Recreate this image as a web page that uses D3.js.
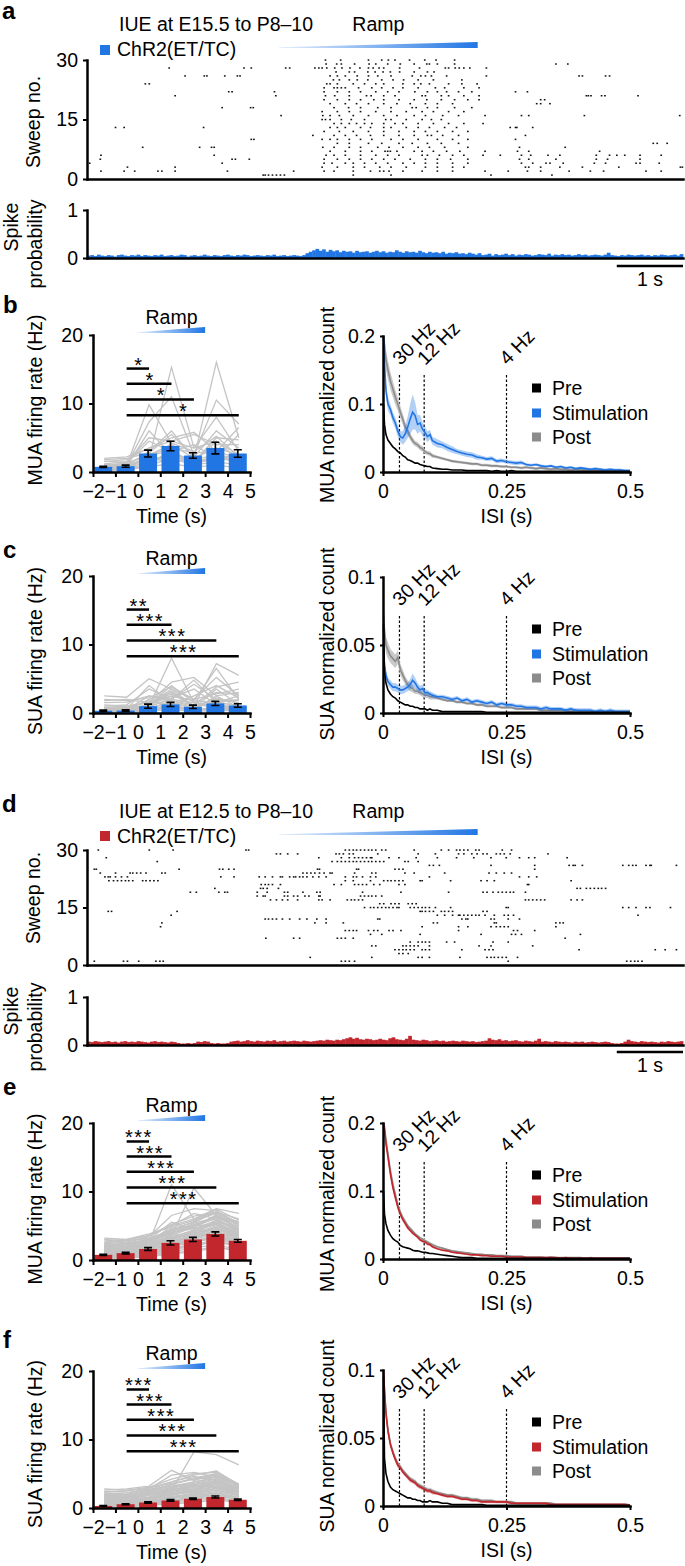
<!DOCTYPE html>
<html>
<head>
<meta charset="utf-8">
<script src="https://cdn.jsdelivr.net/npm/d3@7"></script>
<style>
body { margin: 0; background: #fff; }
svg text { font-family: 'Liberation Sans', Arial, Helvetica, sans-serif; font-size: 19.5px; fill: #000; }
svg text.letter { font-size: 24px; font-weight: bold; }
svg text.star { font-size: 20px; letter-spacing: 1.5px; }
</style>
</head>
<body>
<div id="fig"></div>
<script>
var blue = '#2176e4', red = '#c1272d';

// ---- raster panels (a, d) ----
var rasterDomain = [-2.9, 6.1];
var rampStart = 0, rampEnd = 3;
var histStart = -2.9, histBin = 0.05;

// spike times (s), one list per sweep, sweep 1 first
var spikesA = [
[-0.24,-0.21,-0.16,-0.10,-0.04,0.02,0.08,1.12,1.69,3.20,4.12],
[-2.69,-2.34,-2.18,-1.83,-1.77,-1.57,-0.78,0.22,0.68,0.83,1.12,1.38,1.52,1.58,1.66,1.87,2.16,2.39,2.62,3.11,3.46,3.75,3.95,4.38,4.70,4.90,5.54,5.77],
[-2.29,-1.57,0.65,0.88,1.12,1.29,1.52,1.69,1.92,2.21,2.39,2.62,2.79,3.72,3.77,3.95,4.24,4.58,5.13,6.06,6.09],
[-2.86,-0.86,0.68,0.80,1.00,1.12,1.29,1.46,1.64,1.87,2.04,2.21,2.39,2.62,2.85,3.66,3.83,4.03,4.09,4.29,4.76,4.93,5.39,5.45,5.74],
[-2.70,-0.71,-0.66,-0.45,0.68,0.88,1.06,1.23,1.40,1.58,1.75,1.98,2.21,2.39,2.59,2.85,3.63,3.77,4.18,4.79,4.96,5.45],
[-2.69,-0.98,0.71,0.83,1.00,1.23,1.46,1.64,1.81,2.16,2.24,2.42,2.62,2.79,3.08,3.34,3.66,3.80,4.06,4.24,4.79,4.99,5.10,5.22,5.45,5.77],
[0.77,1.00,1.23,1.40,1.60,1.64,1.68,1.78,2.04,2.16,2.33,2.53,2.73,3.11,3.60,3.77,4.84],
[-2.06,-1.20,-1.02,-0.98,0.66,0.83,1.06,1.23,1.49,1.66,1.87,2.10,2.27,2.50,2.85,3.63,4.32],
[0.88,1.06,1.35,1.55,1.81,2.01,2.24,2.45,2.71,5.65,5.71,5.86],
[-0.42,-0.38,0.65,0.77,0.88,1.06,1.23,1.40,1.69,1.87,2.10,2.39,2.62,2.85,3.57],
[0.51,0.83,1.00,1.17,1.38,1.58,1.81,2.04,2.24,2.30,2.47,2.71,3.72],
[0.68,0.91,1.12,1.35,1.58,1.81,2.04,2.21,2.39,2.62,2.85],
[-2.47,-2.34,-1.14,0.77,0.88,1.00,1.23,1.38,1.58,1.69,1.92,2.10,2.27,2.50,2.68,3.49,3.57,3.59,3.83],
[0.83,0.94,1.06,1.17,1.29,1.40,1.58,1.75,1.87,2.10,2.33,2.56,2.79,3.08],
[0.65,0.70,0.77,0.94,1.09,1.29,1.61,1.69,1.92,2.16,2.30,2.45],
[0.03,0.66,0.77,0.91,1.12,1.35,1.58,1.78,2.04,2.21,2.47,2.71,3.11,3.66,3.77,4.61,6.05],
[0.65,0.88,1.06,1.23,1.46,1.69,1.92,2.16,2.33,2.56,2.79],
[-0.86,-0.43,-0.39,0.83,1.05,1.23,1.49,1.69,2.01,2.07,2.24,2.39,2.65,2.91],
[0.77,1.00,1.17,1.35,1.58,1.78,1.98,2.21,2.39,2.62,3.89,3.95,4.09],
[0.68,0.88,1.06,1.23,1.43,1.58,1.81,2.04,2.23,2.45,2.65,2.85,3.02,3.95,4.01],
[-1.57,-0.05,0.70,0.84,1.06,1.32,1.39,1.58,1.75,2.16,2.21,2.45,2.56,2.79,3.02,4.64,4.67,4.71,4.87,4.92,5.42],
[-0.76,-0.71,-0.07,0.68,0.88,1.06,1.23,1.46,1.64,1.81,2.05,2.24,2.39,2.53,2.71,2.91,3.57,3.75],
[0.68,0.83,0.88,0.94,1.00,1.20,1.40,1.55,1.72,1.87,2.10,2.36,2.50,2.79,3.02],
[-2.02,-1.96,0.72,0.77,0.88,1.12,1.29,1.46,1.58,1.87,2.04,2.14,2.27,2.56,2.76,2.99],
[0.82,0.91,1.06,1.18,1.34,1.55,1.72,1.88,2.10,2.33,2.76],
[-1.42,-1.13,-1.09,-0.82,-0.63,-0.59,0.77,0.88,1.00,1.18,1.35,1.49,1.69,2.01,2.14,2.21,2.30,2.53,3.13,4.53,4.58,4.93,4.99],
[0.86,1.06,1.14,1.34,1.45,1.57,1.68,1.82,2.04,2.24,2.34],
[-1.66,-0.53,-0.42,0.10,0.16,0.54,0.60,0.65,0.72,0.84,0.95,1.07,1.22,1.35,1.42,1.51,1.58,1.82,2.12,2.51,2.56,2.66,2.72,2.79,2.88,3.13],
[0.71,0.87,0.94,1.14,1.36,1.46,1.64,1.83,2.04,2.23,2.27,2.39,2.65,4.18,4.36],
[0.70,0.93,1.35,1.55,1.65,1.75,1.97,2.20,2.37,2.65]
];

var spikesD = [
[-2.79,-2.35,-2.29,-2.12,-1.86,-1.80,-1.75,0.94,1.00,1.06,1.14,3.46,5.25,5.31,5.37,5.42,5.48],
[0.47,1.40,2.10,2.16,2.27,2.73,3.14,3.20,3.25,3.31,3.37,3.43,3.60],
[1.81,1.87,1.95],
[1.75,1.81,1.87,1.92,1.98,2.04,2.16,2.21,2.27,2.76,3.11,3.17,3.23,4.53,5.68,5.83,6.00],
[1.40,1.46,1.87,1.92,1.98,2.04,2.10,2.27,3.02,3.20,3.83],
[1.98,2.10,2.16,2.21,2.27,2.53,2.65,3.23,3.46],
[-0.20,0.22,0.31,0.88,0.94,1.00,1.12,4.32],
[1.38,1.55,2.13,3.05,3.51,3.57,3.66,4.55],
[1.00,1.06,1.12,1.17,1.35,1.43,1.49,1.66,1.72,1.84,2.71,3.54,3.60,3.86],
[-1.79,2.16,2.71,2.85,3.20,3.28,3.34,3.40,3.46,4.18],
[-1.77,0.54,0.71,0.97,2.33,2.39,3.25,3.28,4.18,4.24,4.29],
[-0.21,-0.16,-0.10,-0.04,0.05,0.16,0.31,0.42,0.57,0.71,1.49,1.52,2.76,2.82,2.85,3.20,3.25,3.46,3.63],
[-1.63,2.39,2.50,2.62,2.71,2.73,2.79,2.85,2.91,2.97,3.02,3.11,3.25,3.40,3.46,3.54,5.42],
[-2.58,-2.53,-1.54,2.13,2.16,2.21,2.27,2.33,2.45,2.50,2.56,2.62,3.08,3.14],
[1.29,1.38,1.43,1.49,1.55,1.61,1.66,1.72,1.78,1.81,1.98,2.04,2.10,2.16,2.21,2.27,2.36,2.59,3.43,3.46,5.19,5.28,5.39,5.54,5.60,5.91],
[1.52,1.58,1.69,1.75,1.81,1.95,2.01,2.07],
[-0.13,-0.04,0.05,0.13,0.28,0.60,0.65,0.77,1.03,1.09,1.14,1.20,1.26,3.72,3.77,3.83,3.89,3.95,4.01,4.41,4.50,4.58],
[-0.33,-0.24,-0.21,0.08,0.13,0.22,0.28,0.39,0.45,0.60,0.62,1.23,1.29,1.35,1.40,1.46,1.55],
[-1.34,-1.25,-0.91,-0.82,-0.78,-0.33,-0.18,0.08,0.13,0.36,0.57,0.62,1.26,1.84,2.56,3.08,3.14,3.23,3.31,3.37,3.43,3.49,3.54,3.72],
[-0.97,-0.28,-0.24,-0.18,-0.01,4.50,4.55,4.64,4.70,4.76,4.82,4.87,4.93],
[-0.27,-0.21,-0.16,-0.10,0.02,0.83,0.94,1.14,1.20,1.26,1.32,1.43,1.52,1.81,1.90,3.75,3.77],
[-2.57,-2.50,-2.44,-2.38,-2.32,-2.27,-2.21,-2.06,-2.01,-1.95,-1.89,-1.83,1.00,1.12,1.38,1.58,1.64,1.69,1.75,1.81,1.87,2.13,2.16,2.59,3.05,3.14,3.25,4.41],
[-2.63,-2.58,-2.55,-2.47,-2.38,-2.29,-0.88,-0.68,-0.30,-0.21,-0.10,0.02,0.05,0.16,0.22,0.25,0.31,0.36,0.42,0.51,0.60,0.71,1.00,1.12,1.17,1.26,1.38,1.46,2.27,3.63,3.77,3.89],
[-2.70,-2.47,-2.25,-2.21,-2.15,-2.09,-2.01,-1.77,-1.72,0.36,0.42,0.48,0.54,0.61,0.68,0.77,0.80,1.14,1.40,1.46,1.90,2.04,2.50,3.17,3.28,3.40,3.51],
[-2.79,-2.76,-1.51,-0.90,-0.85,-0.76,-0.68,0.58,0.61,1.17,1.20,1.75,1.81,1.87,3.86],
[2.27,2.33,2.42,3.20,3.86,4.38,4.44,4.47,4.58,5.19,5.28,5.34,5.39,5.54,5.60,5.62,6.00],
[-1.84,0.80,0.88,0.94,1.00,1.06,1.12,1.17,1.23,1.29,1.35,1.40,1.46,1.52,1.58,1.90,1.95,2.10],
[-2.61,0.60,0.94,1.06,1.14,1.20,1.26,1.32,1.38,1.40,1.66,1.81,2.07,2.39,2.68,2.94,3.20,3.43,3.63,3.77,3.86,4.35],
[-0.04,0.02,0.13,0.28,0.86,0.91,0.97,1.06,1.12,1.49,2.10,2.36,2.71,2.79,2.91,2.99,3.08,3.14,3.28,3.34,3.40,3.49,4.06],
[-2.73,-1.96,-1.60,-0.50,-0.46,1.00,1.06,1.12,1.17,1.23,1.29,1.35,1.40,1.46,1.55,1.61,2.04,2.45,2.56,2.68,2.73,2.79,2.85,2.97,3.02,3.37,3.51]
];

// spike probability, 50 ms bins from -2.9 s
var probA = [
0.05,0.06,0.04,0.07,0.05,0.04,0.06,0.05,0.03,0.06,0.07,0.05,0.04,0.06,0.05,0.07,0.04,0.06,0.05,0.04,
0.06,0.05,0.07,0.04,0.05,0.06,0.04,0.05,0.07,0.06,0.03,0.05,0.06,0.04,0.05,0.07,0.05,0.04,0.06,0.05,
0.04,0.06,0.07,0.05,0.04,0.06,0.05,0.07,0.06,0.04,0.05,0.06,0.05,0.04,0.06,0.05,0.07,0.04,0.05,0.06,
0.04,0.05,0.06,0.05,0.04,0.06,0.10,0.13,
0.16,0.19,0.15,0.18,0.13,0.17,0.14,0.16,0.12,0.15,0.13,0.14,0.11,0.15,0.12,0.13,0.14,0.11,0.13,0.15,
0.12,0.14,0.11,0.13,0.12,0.16,0.13,0.11,0.14,0.12,0.13,0.11,0.15,0.12,0.10,0.13,0.11,0.12,0.10,0.13,
0.09,0.11,0.10,0.12,0.09,0.10,0.08,0.11,0.09,0.07,0.10,0.06,
0.07,0.09,0.05,0.08,0.06,0.07,0.09,0.06,0.08,0.05,0.07,0.06,0.08,0.07,0.05,0.06,0.08,0.07,0.06,0.09,
0.05,0.07,0.06,0.08,0.06,0.07,0.05,0.06,0.08,0.06,0.07,0.05,0.06,0.07,0.06,0.05,0.07,0.11,0.06,0.05,
0.04,0.06,0.05,0.07,0.06,0.05,0.06,0.07,0.05,0.06,0.04,0.06,0.05,0.07,0.06,0.05,0.06,0.07,0.05,0.08
];
var probD = [
0.07,0.06,0.08,0.07,0.06,0.07,0.08,0.06,0.07,0.05,0.07,0.08,0.06,0.07,0.06,0.08,0.07,0.06,0.05,0.07,
0.08,0.06,0.07,0.06,0.05,0.07,0.06,0.04,0.03,0.03,0.04,0.03,0.04,0.07,0.06,0.08,0.07,0.04,0.03,0.04,
0.03,0.03,0.04,0.07,0.08,0.09,0.07,0.08,0.10,0.08,0.07,0.09,0.08,0.07,0.09,0.08,0.10,0.07,0.08,0.09,
0.07,0.08,0.09,0.08,0.07,0.09,0.08,0.07,
0.08,0.09,0.10,0.09,0.11,0.10,0.09,0.11,0.10,0.12,0.14,0.16,0.13,0.15,0.12,0.11,0.13,0.12,0.10,0.11,
0.13,0.11,0.10,0.14,0.16,0.12,0.11,0.10,0.13,0.19,0.11,0.10,0.09,0.11,0.10,0.08,0.09,0.10,0.08,0.09,
0.07,0.08,0.09,0.08,0.07,0.09,0.08,0.07,0.08,0.06,0.07,0.08,
0.09,0.14,0.11,0.10,0.12,0.09,0.10,0.08,0.09,0.10,0.08,0.07,0.09,0.08,0.07,0.09,0.13,0.07,0.08,0.07,
0.06,0.08,0.07,0.06,0.07,0.06,0.05,0.07,0.06,0.07,0.05,0.06,0.07,0.06,0.05,0.06,0.07,0.06,0.04,0.03,
0.03,0.04,0.07,0.11,0.08,0.07,0.06,0.08,0.07,0.06,0.07,0.06,0.05,0.07,0.06,0.08,0.07,0.06,0.07,0.08
];

// ---- firing rate panels ----
var rateBins = [-1.5, -0.5, 0.5, 1.5, 2.5, 3.5, 4.5];
var rateTicks = [-2, -1, 0, 1, 2, 3, 4, 5];
var sigStart = -0.5;
var sigLevels = [17.3, 15.1, 12.9, 10.6, 8.3];

var bLines = [
[0.5,0.6,2.0,15.3,3.5,4.5,2.5],[1.0,1.2,2.5,4.0,2.0,16.0,5.0],[0.8,1.0,7.3,11.0,2.5,10.5,7.0],
[1.5,1.8,3.5,5.0,5.8,3.0,6.5],[0.6,0.5,2.5,3.0,1.5,5.0,4.7],[1.2,1.5,5.0,4.5,3.5,8.0,3.0],
[0.3,0.4,1.0,2.0,1.0,1.5,1.0],[0.8,0.9,3.0,6.0,2.0,3.5,2.5],[2.0,2.2,3.5,4.5,5.5,4.0,4.0],
[0.4,0.6,1.5,2.5,1.2,2.0,1.5],[1.0,1.3,2.5,3.5,2.8,3.0,2.0],[0.7,0.8,6.0,2.5,1.8,2.5,2.0],
[0.5,0.7,2.0,1.5,2.0,1.5,3.0],[1.6,1.4,4.5,3.0,4.0,2.0,5.5],[0.2,0.3,0.8,1.2,0.7,1.0,0.6],
[0.9,1.1,1.8,2.2,1.5,4.5,1.8],[1.8,2.0,2.8,5.5,2.2,6.0,3.5],[0.4,0.5,1.2,3.2,0.9,2.8,1.2],
[1.1,0.9,9.8,4.2,3.0,5.2,2.2],[0.6,0.8,2.2,1.8,1.4,2.2,1.6]
];
var bMean = [0.75, 0.85, 2.7, 3.8, 2.4, 3.5, 2.7];
var bSem = [0.1, 0.15, 0.5, 0.7, 0.4, 0.85, 0.55];

var cLines = [
[0.2,0.3,1.0,8.0,1.5,1.0,0.8],[0.5,0.4,2.0,3.0,1.0,7.2,5.5],[2.5,2.3,5.0,3.5,1.0,2.0,1.5],
[0.8,1.0,1.5,4.5,5.2,2.5,3.0],[0.1,0.2,0.5,1.2,0.4,0.8,0.5],[1.5,1.6,2.5,2.0,4.8,1.5,2.5],
[0.3,0.2,0.8,1.5,0.6,3.5,1.2],[0.6,0.5,1.2,2.5,1.8,6.5,2.0],[0.2,0.1,0.4,0.8,0.3,1.0,0.6],
[1.0,1.2,3.5,2.0,1.5,3.0,2.8],[0.4,0.3,1.0,3.2,0.8,1.6,1.0],[0.0,0.1,0.3,0.5,0.2,0.4,0.3],
[0.7,0.6,1.8,1.0,2.5,4.0,2.2],[2.0,1.8,2.2,3.8,2.0,2.8,3.5],[0.3,0.4,0.6,1.8,1.2,0.9,0.7],
[0.5,0.6,4.0,1.5,0.8,2.2,1.4],[0.2,0.3,0.9,2.2,3.5,1.2,0.9],[1.2,1.0,1.5,2.8,1.0,3.8,4.5],
[0.1,0.2,0.5,0.9,0.4,0.6,0.4],[0.8,0.7,1.2,3.5,2.0,5.2,2.5],[0.4,0.5,2.5,1.8,0.9,1.5,1.1],
[0.6,0.8,1.0,2.0,4.2,2.0,1.8],[0.2,0.2,0.7,1.0,0.5,2.5,0.8],[1.8,2.0,1.5,2.5,1.8,1.5,2.0],
[0.3,0.3,1.2,4.0,1.5,1.0,0.8]
];
var cMean = [0.33, 0.35, 1.0, 1.25, 0.9, 1.4, 1.1];
var cSem = [0.1, 0.1, 0.3, 0.3, 0.25, 0.3, 0.25];

var eLines = [
[0.5,0.8,1.2,2.0,2.8,3.5,2.5],[1.0,1.2,1.8,3.0,4.0,5.5,3.8],[2.0,2.5,3.0,4.5,5.5,7.0,5.5],
[3.2,3.0,3.5,5.0,6.0,7.5,6.8],[0.3,0.5,0.8,1.2,1.8,2.2,1.5],[1.5,1.8,2.5,11.0,6.0,7.0,4.0],
[0.8,1.0,2.0,3.5,10.5,6.5,5.0],[1.2,1.5,2.2,3.2,3.8,4.8,3.5],[2.5,2.8,3.2,4.0,4.8,6.2,4.8],
[0.6,0.7,1.0,1.8,2.2,3.0,2.2],[1.8,2.0,2.8,3.8,5.0,6.5,4.5],[0.4,0.6,1.2,2.5,3.0,4.0,2.8],
[1.0,1.3,1.8,2.8,3.5,4.2,3.0],[2.2,2.4,3.0,5.5,4.5,5.8,4.2],[0.9,1.1,1.6,2.4,3.2,4.5,3.2],
[1.4,1.6,2.0,3.0,4.2,5.2,3.8],[0.2,0.4,0.6,1.0,1.4,2.0,1.2],[2.8,3.0,3.8,4.8,5.8,6.8,5.2],
[1.1,1.2,1.5,2.2,2.8,3.6,2.6],[0.7,0.9,1.4,2.6,3.4,4.8,3.3],[1.6,1.9,2.6,4.2,5.2,6.0,4.0],
[0.5,0.6,0.9,1.5,2.0,2.8,2.0],[2.4,2.6,3.4,6.5,7.5,7.2,5.0],[1.3,1.4,2.0,3.3,4.4,5.6,4.4],
[0.8,0.8,1.2,2.0,2.6,3.2,2.4],[1.9,2.2,2.9,4.0,4.6,5.4,3.6],[0.4,0.5,0.8,1.6,2.4,3.6,2.6],
[1.7,1.7,2.4,3.6,4.8,6.6,4.6],[2.6,2.9,3.6,5.2,6.4,7.0,6.0],[1.0,1.0,1.4,2.2,3.0,4.0,3.4],
[0.6,0.8,1.6,3.0,3.8,5.0,3.6],[1.5,1.7,2.2,2.8,3.6,4.6,3.2],[2.1,2.3,2.6,3.4,4.2,5.4,4.0],
[0.3,0.3,0.5,0.9,1.2,1.8,1.4],[1.2,1.4,2.4,4.6,5.0,5.2,3.4],[0.9,1.2,1.8,3.8,3.2,4.2,3.0],
[2.0,2.1,2.6,3.8,5.4,6.2,5.6],[1.4,1.5,1.9,2.6,3.4,3.8,2.8],[0.7,0.7,1.0,1.6,2.2,2.6,2.0],
[1.8,1.9,2.4,5.0,6.8,6.0,4.4],[3.0,2.8,3.2,4.2,5.0,6.4,5.4],[1.1,1.3,1.7,2.8,3.6,5.8,4.2],
[0.5,0.6,1.1,2.0,2.6,3.4,2.4],[2.3,2.4,3.0,4.4,5.6,7.4,5.8],[1.6,1.8,2.4,3.2,4.0,4.4,3.6]
];
var eMean = [0.75, 1.0, 1.6, 2.5, 3.0, 3.8, 2.8];
var eSem = [0.1, 0.12, 0.2, 0.3, 0.3, 0.3, 0.2];

var fLines = [
[0.2,0.3,0.5,1.0,1.5,2.0,1.2],[0.8,0.9,1.5,2.5,3.0,3.8,2.8],[2.6,2.8,3.2,5.5,4.0,5.0,3.3],
[0.5,0.6,1.0,1.5,1.8,2.2,1.6],[1.2,1.4,2.0,2.6,8.2,7.8,6.3],[0.1,0.2,0.4,0.8,1.0,1.4,0.9],
[1.5,1.7,2.5,3.5,4.2,4.8,3.2],[0.4,0.4,0.8,1.5,2.2,2.6,1.8],[2.0,2.2,2.8,4.8,5.2,4.5,3.4],
[0.9,1.0,1.5,2.2,2.8,3.4,2.5],[0.3,0.5,0.9,1.8,2.6,3.0,2.0],[1.8,1.9,2.4,3.2,3.6,4.2,3.0],
[0.6,0.7,1.2,2.0,2.4,2.9,2.2],[1.0,1.2,1.6,2.4,3.2,3.8,2.9],[0.2,0.2,0.4,0.6,0.8,1.2,0.8],
[2.3,2.5,3.0,4.2,5.0,5.2,3.5],[0.7,0.8,1.3,2.6,3.4,3.0,2.3],[1.4,1.5,2.2,3.0,3.8,4.5,3.3],
[0.4,0.5,0.7,1.2,1.6,2.0,1.4],[1.1,1.3,1.8,2.9,2.6,3.6,2.7],[0.8,0.9,1.2,1.9,2.5,3.2,2.4],
[1.9,2.0,2.6,3.8,4.6,4.0,3.1],[0.3,0.4,0.6,1.1,1.4,1.8,1.2],[1.6,1.7,2.0,2.7,3.1,3.6,2.8],
[0.5,0.6,1.0,1.7,2.1,2.6,1.9],[2.8,2.6,3.0,3.6,4.2,4.6,3.4],[1.2,1.3,1.9,2.4,3.0,3.4,2.6],
[0.6,0.7,1.1,2.2,2.8,3.6,2.4],[0.9,1.0,1.4,2.0,2.3,2.8,2.0],[1.7,1.8,2.3,3.4,4.4,5.0,3.2],
[0.2,0.3,0.6,1.0,1.3,1.6,1.0],[1.3,1.5,2.1,3.0,3.5,4.0,3.0],[0.8,0.8,1.0,1.6,2.0,2.4,1.8],
[2.1,2.2,2.7,3.2,3.8,4.3,3.3],[0.4,0.5,0.9,1.4,1.9,2.2,1.6],[1.0,1.1,1.6,2.6,3.3,3.1,2.5],
[1.5,1.6,2.1,2.9,3.4,3.9,2.9],[0.6,0.6,0.9,1.4,1.7,2.0,1.5],[2.4,2.5,2.9,3.8,4.8,5.4,3.4],
[1.1,1.2,1.5,2.1,2.6,3.2,2.3]
];
var fMean = [0.3, 0.55, 0.8, 1.1, 1.35, 1.6, 1.2];
var fSem = [0.05, 0.06, 0.1, 0.12, 0.12, 0.15, 0.1];

// ---- ISI panels ----
var hzMarks = [30, 12, 4];
var legendNames = ['Pre', 'Stimulation', 'Post'];
var isiX = [0.001,0.003,0.006,0.01,0.015,0.02,0.025,0.03,0.035,0.04,0.045,0.05,0.055,0.06,0.065,0.07,0.075,0.08,0.085,0.09,0.095,0.1,
0.11,0.12,0.13,0.14,0.15,0.16,0.17,0.18,0.19,0.2,0.21,0.22,0.23,0.24,0.25,0.26,0.27,0.28,0.29,0.3,
0.31,0.32,0.33,0.34,0.35,0.36,0.37,0.38,0.39,0.4,0.41,0.42,0.43,0.44,0.45,0.46,0.47,0.48,0.49,0.5];

var bPre = [0.100,0.070,0.055,0.047,0.042,0.037,0.034,0.030,0.028,0.024,0.022,0.018,0.017,0.015,0.013,0.013,0.011,0.010,0.009,0.008,0.008,0.006,
0.005,0.004,0.004,0.003,0.003,0.003,0.002,0.002,0.002,0.002,0.002,0.001,0.002,0.001,0.001,0.002,0.001,0.001,0.001,0.001,
0.001,0.001,0.001,0.001,0.001,0.001,0.001,0.001,0.001,0.001,0.001,0.001,0.001,0.001,0.001,0.001,0.001,0.001,0.001,0.001];
var bStim = [0.200,0.160,0.120,0.100,0.092,0.080,0.072,0.060,0.052,0.050,0.056,0.066,0.078,0.088,0.083,0.070,0.072,0.063,0.058,0.052,0.055,0.046,
0.042,0.040,0.036,0.033,0.030,0.028,0.026,0.025,0.022,0.021,0.019,0.020,0.016,0.017,0.015,0.014,0.013,0.014,0.011,0.010,
0.011,0.009,0.008,0.009,0.007,0.008,0.006,0.007,0.005,0.006,0.005,0.004,0.005,0.004,0.003,0.004,0.003,0.003,0.002,0.002];
var bStimSem = [0.010,0.010,0.010,0.010,0.008,0.008,0.008,0.008,0.008,0.010,0.012,0.016,0.022,0.026,0.020,0.014,0.012,0.010,0.009,0.008,0.007,0.006,
0.006,0.005,0.005,0.005,0.004,0.004,0.004,0.004,0.004,0.003,0.003,0.003,0.003,0.003,0.003,0.003,0.003,0.003,0.002,0.002,
0.002,0.002,0.002,0.002,0.002,0.002,0.002,0.002,0.002,0.002,0.002,0.002,0.002,0.002,0.002,0.002,0.002,0.002,0.002,0.002];
var bPost = [0.200,0.185,0.165,0.150,0.134,0.122,0.110,0.100,0.088,0.078,0.066,0.060,0.052,0.046,0.042,0.040,0.036,0.034,0.030,0.028,0.027,0.024,
0.022,0.020,0.018,0.016,0.015,0.014,0.013,0.012,0.012,0.010,0.010,0.009,0.009,0.008,0.008,0.007,0.007,0.006,0.007,0.006,
0.005,0.006,0.005,0.004,0.005,0.004,0.004,0.003,0.004,0.003,0.003,0.003,0.002,0.003,0.002,0.002,0.002,0.002,0.001,0.001];
var bPostSem = [0.015,0.015,0.015,0.014,0.013,0.012,0.011,0.010,0.009,0.008,0.007,0.006,0.005,0.005,0.004,0.004,0.004,0.004,0.003,0.003,0.003,0.003,
0.002,0.002,0.002,0.002,0.002,0.002,0.002,0.002,0.002,0.002,0.002,0.002,0.002,0.002,0.002,0.002,0.002,0.002,0.002,0.002,
0.002,0.002,0.002,0.002,0.002,0.002,0.002,0.002,0.002,0.002,0.002,0.002,0.002,0.002,0.002,0.002,0.002,0.002,0.002,0.002];

var cPre = [0.065,0.030,0.022,0.017,0.014,0.012,0.011,0.009,0.008,0.007,0.006,0.006,0.005,0.005,0.004,0.004,0.003,0.003,0.003,0.002,0.003,0.002,
0.002,0.001,0.001,0.001,0.001,0.001,0.001,0.001,0.001,0.001,0.0005,0.0005,0.0005,0.0005,0.0005,0.0005,0.0005,0.0005,0.0005,0.0005,
0.0005,0.0005,0.0005,0.0005,0.0005,0.0005,0.0005,0.0005,0.0005,0.0005,0.0005,0.0005,0.0005,0.0005,0.0005,0.0005,0.0005,0.0005,0.0005,0.0005];
var cStim = [0.046,0.035,0.028,0.023,0.021,0.019,0.019,0.018,0.017,0.017,0.018,0.019,0.021,0.024,0.022,0.019,0.017,0.018,0.015,0.015,0.014,0.013,
0.012,0.012,0.011,0.010,0.011,0.009,0.010,0.008,0.009,0.008,0.007,0.008,0.006,0.007,0.006,0.006,0.005,0.005,0.004,0.004,
0.004,0.003,0.004,0.003,0.003,0.003,0.002,0.003,0.002,0.002,0.002,0.002,0.001,0.002,0.001,0.002,0.001,0.001,0.001,0.001];
var cStimSem = [0.004,0.004,0.003,0.003,0.003,0.003,0.003,0.003,0.003,0.003,0.003,0.003,0.004,0.005,0.004,0.003,0.003,0.003,0.003,0.002,0.002,0.002,
0.0015,0.0015,0.0015,0.0015,0.0015,0.0015,0.0015,0.0015,0.0015,0.0015,0.0015,0.0015,0.0015,0.0015,0.0015,0.0015,0.0015,0.0015,0.0015,0.0015,
0.0015,0.0015,0.0015,0.0015,0.0015,0.0015,0.0015,0.0015,0.0015,0.0015,0.0015,0.0015,0.0015,0.0015,0.0015,0.0015,0.0015,0.0015,0.0015,0.0015];
var cPost = [0.072,0.060,0.050,0.046,0.042,0.040,0.038,0.041,0.032,0.028,0.024,0.021,0.019,0.018,0.016,0.016,0.015,0.014,0.013,0.013,0.012,0.012,
0.011,0.010,0.009,0.009,0.008,0.008,0.007,0.007,0.006,0.006,0.005,0.005,0.005,0.004,0.004,0.004,0.003,0.003,0.003,0.003,
0.003,0.002,0.002,0.002,0.002,0.002,0.002,0.001,0.002,0.001,0.001,0.001,0.001,0.001,0.001,0.001,0.001,0.001,0.001,0.001];
var cPostSem = [0.008,0.007,0.006,0.006,0.005,0.005,0.005,0.005,0.004,0.004,0.003,0.003,0.003,0.003,0.002,0.002,0.002,0.002,0.002,0.002,0.002,0.002,
0.001,0.001,0.001,0.001,0.001,0.001,0.001,0.001,0.001,0.001,0.001,0.001,0.001,0.001,0.001,0.001,0.001,0.001,0.001,0.001,
0.001,0.001,0.001,0.001,0.001,0.001,0.001,0.001,0.001,0.001,0.001,0.001,0.001,0.001,0.001,0.001,0.001,0.001,0.001,0.001];

var ePre = [0.100,0.066,0.052,0.042,0.035,0.030,0.027,0.025,0.020,0.018,0.017,0.016,0.015,0.013,0.012,0.012,0.011,0.010,0.010,0.009,0.008,0.008,
0.007,0.006,0.005,0.004,0.003,0.002,0.002,0.002,0.001,0.001,0.001,0.001,0.001,0.001,0.001,0.001,0.001,0.001,0.001,0.001,
0.001,0.001,0.001,0.001,0.001,0.001,0.001,0.001,0.001,0.001,0.001,0.001,0.001,0.001,0.001,0.001,0.001,0.001,0.001,0.001];
var eStim = [0.200,0.190,0.170,0.150,0.125,0.105,0.090,0.076,0.066,0.058,0.052,0.046,0.042,0.038,0.035,0.032,0.028,0.026,0.025,0.022,0.021,0.018,
0.015,0.013,0.012,0.010,0.009,0.008,0.007,0.006,0.006,0.005,0.005,0.004,0.004,0.004,0.003,0.003,0.003,0.003,0.002,0.002,
0.002,0.002,0.002,0.002,0.002,0.001,0.002,0.001,0.001,0.001,0.001,0.001,0.001,0.001,0.001,0.001,0.001,0.001,0.001,0.001];
var eStimSem = [0.008,0.008,0.007,0.006,0.005,0.005,0.004,0.004,0.003,0.003,0.003,0.003,0.002,0.002,0.002,0.002,0.002,0.002,0.002,0.002,0.002,0.002,
0.001,0.001,0.001,0.001,0.001,0.001,0.001,0.001,0.001,0.001,0.001,0.001,0.001,0.001,0.001,0.001,0.001,0.001,0.001,0.001,
0.001,0.001,0.001,0.001,0.001,0.001,0.001,0.001,0.001,0.001,0.001,0.001,0.001,0.001,0.001,0.001,0.001,0.001,0.001,0.001];
var ePost = [0.200,0.195,0.175,0.155,0.130,0.110,0.095,0.080,0.069,0.061,0.055,0.049,0.045,0.041,0.037,0.034,0.031,0.029,0.027,0.025,0.023,0.021,
0.018,0.016,0.014,0.012,0.011,0.010,0.009,0.008,0.007,0.007,0.006,0.006,0.005,0.005,0.005,0.004,0.004,0.004,0.003,0.003,
0.003,0.003,0.002,0.003,0.002,0.002,0.002,0.002,0.002,0.002,0.001,0.002,0.001,0.001,0.001,0.001,0.001,0.001,0.001,0.001];
var ePostSem = eStimSem;

var fPre = [0.095,0.035,0.024,0.018,0.014,0.012,0.011,0.010,0.009,0.008,0.007,0.006,0.006,0.005,0.005,0.004,0.004,0.003,0.003,0.003,0.004,0.003,
0.003,0.002,0.002,0.001,0.001,0.001,0.001,0.001,0.001,0.001,0.0005,0.0005,0.0005,0.0005,0.0005,0.0005,0.0005,0.0005,0.0005,0.0005,
0.0005,0.0005,0.0005,0.0005,0.0005,0.0005,0.0005,0.0005,0.0005,0.0005,0.0005,0.0005,0.0005,0.0005,0.0005,0.0005,0.0005,0.0005,0.0005,0.0005];
var fStim = [0.100,0.085,0.068,0.055,0.045,0.039,0.034,0.030,0.028,0.025,0.023,0.021,0.019,0.018,0.017,0.015,0.014,0.013,0.012,0.011,0.011,0.010,
0.009,0.008,0.007,0.007,0.006,0.005,0.005,0.004,0.004,0.003,0.003,0.003,0.003,0.003,0.003,0.002,0.002,0.002,0.002,0.002,
0.002,0.002,0.002,0.001,0.001,0.001,0.001,0.001,0.001,0.001,0.001,0.001,0.001,0.001,0.001,0.001,0.001,0.001,0.001,0.0005];
var fStimSem = [0.003,0.003,0.003,0.003,0.002,0.002,0.002,0.002,0.0015,0.0015,0.0015,0.0015,0.0015,0.0015,0.0015,0.0015,0.0015,0.0015,0.0015,0.0015,0.0015,0.0015,
0.001,0.001,0.001,0.001,0.001,0.001,0.001,0.001,0.001,0.001,0.001,0.001,0.001,0.001,0.001,0.001,0.001,0.001,0.001,0.001,
0.001,0.001,0.001,0.001,0.001,0.001,0.001,0.001,0.001,0.001,0.001,0.001,0.001,0.001,0.001,0.001,0.001,0.001,0.001,0.001];
var fPost = [0.100,0.085,0.069,0.056,0.046,0.040,0.035,0.031,0.029,0.026,0.024,0.022,0.020,0.019,0.018,0.016,0.015,0.014,0.013,0.012,0.012,0.011,
0.010,0.009,0.008,0.008,0.007,0.006,0.006,0.005,0.005,0.004,0.004,0.004,0.003,0.003,0.003,0.003,0.002,0.002,0.002,0.002,
0.002,0.002,0.002,0.002,0.001,0.001,0.001,0.001,0.001,0.001,0.001,0.001,0.001,0.001,0.001,0.001,0.001,0.001,0.001,0.0005];
var fPostSem = fStimSem;


var svg = d3.select('#fig').append('svg')
	.attr('width', 685)
	.attr('height', 1566);

var grad = svg.append('defs').append('linearGradient').attr('id', 'rampGrad');
grad.append('stop').attr('offset', '0%').attr('stop-color', blue).attr('stop-opacity', 0.12);
grad.append('stop').attr('offset', '100%').attr('stop-color', blue).attr('stop-opacity', 1);

function styleAxis(sel) {
	sel.attr('font-size', null).attr('font-family', null);
	sel.select('.domain').attr('stroke-width', 2.5).attr('stroke-linecap', 'square');
	sel.selectAll('.tick line').attr('stroke-width', 2);
}

function ramp(g, x0, x1, yb, yt) {
	g.append('path')
		.attr('d', 'M' + x0 + ',' + (yb - 0.7) + 'L' + x1 + ',' + yt + 'L' + x1 + ',' + yb + 'L' + x0 + ',' + yb + 'Z')
		.attr('fill', 'url(#rampGrad)');
}

function vlabel(g, x, y, s) {
	g.append('text').attr('transform', 'translate(' + x + ',' + y + ') rotate(-90)')
		.attr('text-anchor', 'middle').text(s);
}

// raster + spike probability
function drawRaster(c) {
	var g = svg.append('g');
	var x = d3.scaleLinear().domain(rasterDomain).range([87, 683]);
	var y = d3.scaleLinear().domain([0, 30]).range([c.y0, c.y30]);
	var yp = d3.scaleLinear().domain([0, 1]).range([c.p0, c.p1]);

	g.append('text').attr('class', 'letter').attr('x', 2).attr('y', c.letterY).text(c.letter);
	g.append('text').attr('x', 119).attr('y', c.titleY).text(c.title);
	g.append('text').attr('x', x((rampStart + rampEnd) / 2)).attr('y', c.titleY)
		.attr('text-anchor', 'middle').text('Ramp');
	g.append('rect').attr('x', 100).attr('y', c.sqY).attr('width', 10).attr('height', 10).attr('fill', c.color);
	g.append('text').attr('x', 117).attr('y', c.chrY).text('ChR2(ET/TC)');
	ramp(g, x(rampStart), x(rampEnd), c.wedgeB, c.wedgeT);

	var dots = [];
	c.spikes.forEach(function(row, i) {
		row.forEach(function(t) { dots.push({t: t, s: i + 1}); });
	});
	g.selectAll('.spk').data(dots).join('rect').attr('class', 'spk')
		.attr('x', function(d) { return x(d.t) - 0.8; })
		.attr('y', function(d) { return y(d.s) - 0.7; })
		.attr('width', 1.7).attr('height', 1.5)
		.attr('fill', '#111');

	var bw = x(histBin) - x(0);
	g.selectAll('.hb').data(c.probs).join('rect').attr('class', 'hb')
		.attr('x', function(d, i) { return x(histStart + i * histBin); })
		.attr('width', bw + 0.4)
		.attr('y', function(d) { return yp(d); })
		.attr('height', function(d) { return yp(0) - yp(d); })
		.attr('fill', c.color);

	g.append('g').attr('transform', 'translate(0,' + c.y0 + ')')
		.call(d3.axisBottom(x).tickValues([]).tickSizeOuter(0)).call(styleAxis);
	g.append('g').attr('transform', 'translate(87,0)')
		.call(d3.axisLeft(y).tickValues([0, 15, 30]).tickSize(4).tickPadding(5).tickSizeOuter(0)).call(styleAxis);
	g.append('g').attr('transform', 'translate(0,' + c.p0 + ')')
		.call(d3.axisBottom(x).tickValues([]).tickSizeOuter(0)).call(styleAxis);
	g.append('g').attr('transform', 'translate(87,0)')
		.call(d3.axisLeft(yp).tickValues([0, 1]).tickFormat(d3.format('d')).tickSize(4).tickPadding(5).tickSizeOuter(0)).call(styleAxis);

	vlabel(g, 40, c.sweepLabY, 'Sweep no.');
	vlabel(g, 18, c.spikeLabY, 'Spike');
	vlabel(g, 42, c.probLabY, 'probability');

	// 1 s scale bar
	var end = rasterDomain[1];
	g.append('line').attr('x1', x(end - 1)).attr('x2', x(end)).attr('y1', c.barY).attr('y2', c.barY)
		.attr('stroke', '#000').attr('stroke-width', 2.5);
	g.append('text').attr('x', x(end - 0.5)).attr('y', c.barTextY).attr('text-anchor', 'middle').text('1 s');
}

// firing rate bars with individual recordings
function drawRate(c) {
	var g = svg.append('g');
	var x = d3.scaleLinear().domain([-2, 5]).range([93, 250]);
	var y = d3.scaleLinear().domain([0, 20]).range([c.yb, c.yb - 137]);

	g.append('text').attr('class', 'letter').attr('x', 3).attr('y', c.letterY).text(c.letter);
	g.append('text').attr('x', x((rampStart + rampEnd) / 2)).attr('y', c.yb - 148)
		.attr('text-anchor', 'middle').text('Ramp');
	ramp(g, x(rampStart), x(rampEnd), c.yb - 139, c.yb - 145);

	var line = d3.line()
		.x(function(d, i) { return x(rateBins[i]); })
		.y(function(d) { return y(d); });
	g.selectAll('.rl').data(c.lines).join('path').attr('class', 'rl')
		.attr('d', line).attr('fill', 'none')
		.attr('stroke', '#c4c4c4').attr('stroke-width', 1.3);

	g.selectAll('.bar').data(c.mean).join('rect').attr('class', 'bar')
		.attr('x', function(d, i) { return x(rateBins[i]) - 10; })
		.attr('width', 18)
		.attr('y', function(d) { return y(d); })
		.attr('height', function(d) { return y(0) - y(d); })
		.attr('fill', c.color);

	c.mean.forEach(function(m, i) {
		var cx = x(rateBins[i]) - 1, lo = y(m - c.sem[i]), hi = y(m + c.sem[i]);
		g.append('path')
			.attr('d', 'M' + cx + ',' + lo + 'V' + hi + 'M' + (cx - 4) + ',' + lo + 'H' + (cx + 4) + 'M' + (cx - 4) + ',' + hi + 'H' + (cx + 4))
			.attr('stroke', '#000').attr('stroke-width', 1.6).attr('fill', 'none');
	});

	var levels = sigLevels.slice(sigLevels.length - c.sigEnd.length);
	c.sigEnd.forEach(function(e, i) {
		var ly = y(levels[i]);
		g.append('line').attr('x1', x(sigStart)).attr('x2', x(e)).attr('y1', ly).attr('y2', ly)
			.attr('stroke', '#000').attr('stroke-width', 2.5);
		g.append('text').attr('class', 'star').attr('x', (x(sigStart) + x(e)) / 2 + 1).attr('y', ly + 3)
			.attr('text-anchor', 'middle').text(c.sigLab[i]);
	});

	g.append('g').attr('transform', 'translate(0,' + c.yb + ')')
		.call(d3.axisBottom(x).tickValues(rateTicks).tickFormat(d3.format('d')).tickSize(5).tickPadding(7).tickSizeOuter(0))
		.call(styleAxis);
	g.append('g').attr('transform', 'translate(93,0)')
		.call(d3.axisLeft(y).tickValues([0, 10, 20]).tickSize(4).tickPadding(6).tickSizeOuter(0))
		.call(styleAxis);

	vlabel(g, 42, c.ylabY, c.ylab);
	g.append('text').attr('x', x(1.5)).attr('y', c.yb + 51).attr('text-anchor', 'middle').text('Time (s)');
}

// ISI distributions
function drawIsi(c) {
	var g = svg.append('g');
	var x = d3.scaleLinear().domain([0, 0.5]).range([383, 630]);
	var y = d3.scaleLinear().domain([0, c.ymax]).range([c.yb, c.yb - 136]);
	var top = c.yb - 99;

	hzMarks.forEach(function(hz) {
		var xv = x(1 / hz);
		g.append('line').attr('x1', xv).attr('x2', xv).attr('y1', y(0)).attr('y2', top)
			.attr('stroke', '#000').attr('stroke-width', 1.2).attr('stroke-dasharray', '2.5,2');
		g.append('text').attr('transform', 'translate(' + (xv + 1) + ',' + (top - 7) + ') rotate(-45)')
			.text(hz + ' Hz');
	});

	function band(m, s) {
		return d3.area()
			.x(function(d, i) { return x(isiX[i]); })
			.y0(function(d, i) { return y(Math.max(0, m[i] - s[i])); })
			.y1(function(d, i) { return y(Math.min(c.ymax, m[i] + s[i])); });
	}
	var line = d3.line()
		.x(function(d, i) { return x(isiX[i]); })
		.y(function(d) { return y(Math.min(c.ymax, d)); });

	g.append('path').datum(c.post).attr('d', band(c.post, c.postSem)).attr('fill', '#c9c9c9');
	g.append('path').datum(c.post).attr('d', line).attr('fill', 'none').attr('stroke', '#8c8c8c').attr('stroke-width', 1.6);
	g.append('path').datum(c.stim).attr('d', band(c.stim, c.stimSem)).attr('fill', c.color).attr('opacity', 0.35);
	g.append('path').datum(c.stim).attr('d', line).attr('fill', 'none').attr('stroke', c.color).attr('stroke-width', 1.6);
	g.append('path').datum(c.pre).attr('d', line).attr('fill', 'none').attr('stroke', '#000').attr('stroke-width', 1.6);

	var colors = ['#000', c.color, '#8c8c8c'];
	var rows = [c.yb - 84, c.yb - 59, c.yb - 35];
	legendNames.forEach(function(n, i) {
		g.append('rect').attr('x', 532).attr('y', rows[i] - 4.5).attr('width', 9).attr('height', 9).attr('fill', colors[i]);
		g.append('text').attr('x', 552).attr('y', rows[i] + 7).text(n);
	});

	g.append('g').attr('transform', 'translate(0,' + c.yb + ')')
		.call(d3.axisBottom(x).tickValues([0, 0.25, 0.5]).tickFormat(d3.format('~g')).tickSize(4).tickPadding(8).tickSizeOuter(0))
		.call(styleAxis);
	g.append('g').attr('transform', 'translate(383,0)')
		.call(d3.axisLeft(y).tickValues(c.yticks).tickFormat(d3.format('~g')).tickSize(3).tickPadding(5).tickSizeOuter(0))
		.call(styleAxis);

	vlabel(g, 334, c.ylabY, c.ylab);
	g.append('text').attr('x', x(0.25)).attr('y', c.yb + 51).attr('text-anchor', 'middle').text('ISI (s)');
}

drawRaster({letter: 'a', letterY: 19, title: 'IUE at E15.5 to P8\u201310', titleY: 31, color: blue,
	sqY: 45, chrY: 56, wedgeB: 48, wedgeT: 42, y0: 179, y30: 60, p0: 258, p1: 210,
	sweepLabY: 122, spikeLabY: 227, probLabY: 244, barY: 266, barTextY: 286,
	spikes: spikesA, probs: probA});

drawRate({letter: 'b', letterY: 313, yb: 472, color: blue, lines: bLines, mean: bMean, sem: bSem,
	sigEnd: [0.5, 1.5, 2.5, 4.5], sigLab: ['*', '*', '*', '*'], ylab: 'MUA firing rate (Hz)', ylabY: 400});
drawIsi({yb: 472, ymax: 0.2, yticks: [0, 0.1, 0.2], color: blue, ylab: 'MUA normalized count', ylabY: 405,
	pre: bPre, stim: bStim, stimSem: bStimSem, post: bPost, postSem: bPostSem});

drawRate({letter: 'c', letterY: 558, yb: 713, color: blue, lines: cLines, mean: cMean, sem: cSem,
	sigEnd: [0.5, 1.5, 3.5, 4.5], sigLab: ['**', '***', '***', '***'], ylab: 'SUA firing rate (Hz)', ylabY: 651});
drawIsi({yb: 713, ymax: 0.1, yticks: [0, 0.05, 0.1], color: blue, ylab: 'SUA normalized count', ylabY: 644,
	pre: cPre, stim: cStim, stimSem: cStimSem, post: cPost, postSem: cPostSem});

drawRaster({letter: 'd', letterY: 812, title: 'IUE at E12.5 to P8\u201310', titleY: 818, color: red,
	sqY: 831, chrY: 843, wedgeB: 835, wedgeT: 829, y0: 965, y30: 850, p0: 1045, p1: 997,
	sweepLabY: 898, spikeLabY: 1011, probLabY: 1027, barY: 1052, barTextY: 1072,
	spikes: spikesD, probs: probD});

drawRate({letter: 'e', letterY: 1095, yb: 1260, color: red, lines: eLines, mean: eMean, sem: eSem,
	sigEnd: [0.5, 1.5, 2.5, 3.5, 4.5], sigLab: ['***', '***', '***', '***', '***'], ylab: 'MUA firing rate (Hz)', ylabY: 1199});
drawIsi({yb: 1259, ymax: 0.2, yticks: [0, 0.1, 0.2], color: red, ylab: 'MUA normalized count', ylabY: 1194,
	pre: ePre, stim: eStim, stimSem: eStimSem, post: ePost, postSem: ePostSem});

drawRate({letter: 'f', letterY: 1348, yb: 1508, color: red, lines: fLines, mean: fMean, sem: fSem,
	sigEnd: [0.5, 1.5, 2.5, 3.5, 4.5], sigLab: ['***', '***', '***', '***', '***'], ylab: 'SUA firing rate (Hz)', ylabY: 1444});
drawIsi({yb: 1506, ymax: 0.1, yticks: [0, 0.05, 0.1], color: red, ylab: 'SUA normalized count', ylabY: 1436,
	pre: fPre, stim: fStim, stimSem: fStimSem, post: fPost, postSem: fPostSem});
</script>
</body>
</html>
